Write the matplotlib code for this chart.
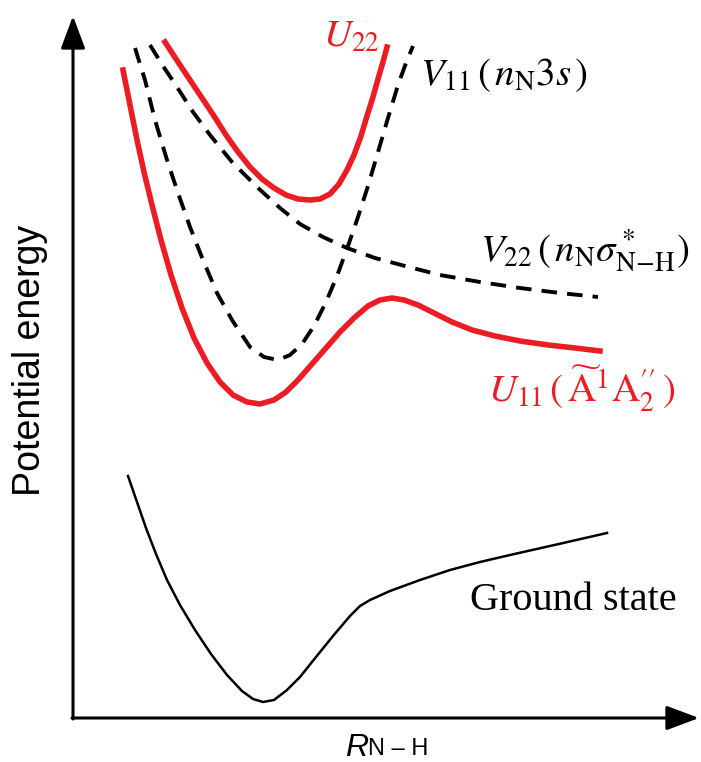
"""Schematic potential energy curves along the N-H stretch coordinate."""
import matplotlib.pyplot as plt

plt.rcParams['mathtext.fontset'] = 'stix'

# curves in drawing units (x to the right, y downwards, as laid out on the page)
ground_x = [128, 137, 146, 156, 167, 180, 195, 211, 227, 242, 253, 263, 274, 287, 300,
            316, 333, 350, 360, 370, 390, 420, 450, 480, 510, 550, 607]
ground_y = [476, 502, 528, 554, 580, 605, 630, 654, 675, 691, 699, 702, 700, 690, 677,
            657, 636, 616, 606, 600, 591, 580, 570, 562, 555, 546, 533]

u11_x = [123, 130, 137, 144, 152, 161, 171, 182, 194, 207, 220, 233, 247, 260, 274, 286,
         298, 312, 326, 340, 354, 368, 380, 392, 404, 418, 434, 452, 472, 495, 520, 548,
         575, 600]
u11_y = [70, 105, 140, 172, 205, 240, 275, 308, 338, 363, 382, 395, 402, 404, 400, 392,
         380, 364, 348, 332, 318, 306, 300, 298, 300, 305, 313, 322, 330, 336, 341, 345,
         348, 351]

u22_x = [165, 178, 190, 202, 214, 226, 238, 250, 262, 274, 286, 298, 310, 320, 330, 339,
         347, 354, 361, 367, 373, 378, 383, 387]
u22_y = [42, 62, 80, 98, 116, 135, 152, 167, 179, 188, 195, 199, 200, 199, 194, 184,
         170, 155, 136, 116, 97, 79, 62, 47]

v11_x = [135, 145, 155, 167, 178, 190, 203, 217, 232, 250, 264, 278, 290, 302, 314, 326,
         337, 348, 358, 368, 378, 388, 398, 406, 413]
v11_y = [48, 80, 120, 160, 193, 227, 260, 293, 320, 347, 357, 360, 355, 344, 326, 302,
         276, 246, 217, 186, 152, 118, 85, 63, 46]

v22_x = [150, 163, 177, 193, 210, 232, 257, 280, 300, 323, 347, 375, 405, 440, 480, 520,
         560, 598]
v22_y = [45, 66, 87, 112, 135, 162, 187, 208, 224, 237, 248, 258, 266, 275, 282, 288,
         293, 297]

RED = '#ec1c24'

fig = plt.figure(figsize=(7.01, 7.62), dpi=100)
ax = fig.add_axes([0, 0, 1, 1])
ax.set_xlim(0, 701)
ax.set_ylim(762, 0)
ax.axis('off')

# axes with arrow heads
head = dict(arrowstyle='-|>,head_length=2.0,head_width=0.75', mutation_scale=10,
            color='black', lw=2.2, shrinkA=0, shrinkB=0)
ax.annotate('', xy=(73, 16), xytext=(73, 719), arrowprops=head)
ax.annotate('', xy=(699, 718), xytext=(72, 718), arrowprops=head)

ax.plot(ground_x, ground_y, color='black', lw=1.8, solid_joinstyle='round')
ax.plot(u11_x, u11_y, color=RED, lw=4, solid_joinstyle='round')
ax.plot(u22_x, u22_y, color=RED, lw=4, solid_joinstyle='round')
ax.plot(v11_x, v11_y, color='black', lw=2.8, dashes=(4, 2.6))
ax.plot(v22_x, v22_y, color='black', lw=2.8, dashes=(4, 2.6))

# axis titles
ax.text(30, 360, 'Potential energy', rotation=90, ha='center', va='center',
        fontsize=27, family='Liberation Sans')
ax.text(345, 756, 'R', ha='left', va='baseline', fontsize=23,
        family='Liberation Sans', style='italic')
ax.text(368, 755, 'N – H', ha='left', va='baseline', fontsize=17, family='Liberation Sans')

# curve labels
ax.text(323, 47, r'$U_{22}$', color=RED, fontsize=28, ha='left', va='baseline')
ax.text(420, 85, r'$V_{11}\,(\,n_{\mathrm{N}}3s\,)$', fontsize=28, ha='left', va='baseline')
ax.text(480, 262, r'$V_{22}\,(\,n_{\mathrm{N}}\sigma^*_{\mathrm{N\!-\!H}})$', fontsize=28,
        ha='left', va='baseline')
ax.text(488, 402, r'$U_{11}\,(\,\widetilde{\mathrm{A}}{}^1\mathrm{A}_2^{\prime\prime}\,)$',
        color=RED, fontsize=28, ha='left', va='baseline')
ax.text(470, 610, 'Ground state', fontsize=29, family='Liberation Serif',
        ha='left', va='baseline')

plt.savefig('out.png', dpi=100, facecolor='white')
